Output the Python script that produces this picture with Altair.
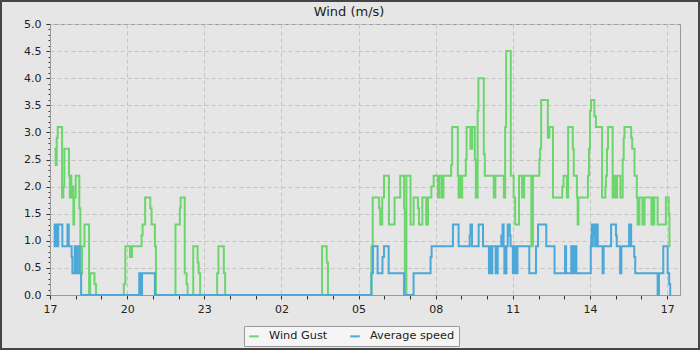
import altair as alt
import pandas as pd

TITLE = "Wind (m/s)"
SERIES = ["Wind Gust", "Average speed"]
COLORS = ["#6cd66c", "#4ba8d8"]
START_HOUR = 17  # x values are hours since 17:00

GUST_HOURS = [
    0.17, 0.22, 0.26, 0.30, 0.47, 0.52, 0.56, 0.74, 0.77, 0.80, 0.83, 0.87, 0.91, 0.94, 1.00, 1.14, 1.18, 1.22,
    1.25, 1.34, 1.52, 1.56, 1.73, 1.79,
    2.87, 2.93, 3.11, 3.19, 3.56, 3.60, 3.70, 3.90, 3.95, 4.08, 4.12,
    4.88, 5.05, 5.08, 5.24, 5.31, 5.35,
    5.57, 5.74, 5.78, 5.84,
    6.50, 6.55, 6.76, 6.81,
    10.58, 10.76, 10.81,
    12.50, 12.55, 12.80, 12.84, 12.92, 12.99, 13.18, 13.40, 13.62, 13.77, 13.80, 13.86, 14.02, 14.14, 14.31,
    14.35, 14.48, 14.63, 14.70, 14.83, 14.92, 15.09, 15.15, 15.24, 15.30, 15.60, 15.64, 15.86, 15.89, 15.92,
    15.95, 16.03, 16.17, 16.20, 16.35, 16.42, 16.52, 16.56, 16.59, 16.61, 16.63, 16.66, 16.87, 16.91, 17.26,
    17.32, 17.65, 17.70, 17.74, 17.92, 18.03, 18.09, 18.24, 18.36, 18.44, 18.72, 18.78, 19.03, 19.06, 19.10,
    19.36, 19.42, 19.56, 19.92, 19.97, 20.10, 20.15, 20.33, 20.37, 20.49, 20.52, 20.55, 20.92, 20.96, 21.00,
    21.04, 21.17, 21.23, 21.47, 21.60, 21.62, 21.66, 21.70, 21.88, 21.95, 21.99, 22.05, 22.18, 22.27, 22.31,
    22.34, 22.60, 22.64, 22.73, 22.82, 22.85, 22.92, 23.04, 23.12, 23.39, 23.43, 23.46, 23.50, 23.63, 23.95,
    24.06, 24.09, 24.13,
]
GUST_MS = [
    2.7, 2.4, 2.9, 3.1, 1.8, 2.0, 2.7, 2.2, 1.8, 2.2, 1.8, 2.0, 1.3, 1.8, 2.2, 1.6, 0.9, 0.4,
    0.9, 1.3, 0.0, 0.4, 0.2, 0.0,
    0.2, 0.9, 0.7, 0.9, 1.1, 1.3, 1.8, 1.6, 1.3, 0.9, 0.0,
    1.3, 1.6, 1.8, 0.4, 0.2, 0.0,
    0.9, 0.6, 0.4, 0.0,
    0.4, 0.9, 0.4, 0.0,
    0.9, 0.6, 0.0,
    0.9, 1.8, 1.6, 1.3, 1.8, 2.2, 1.3, 1.8, 2.2, 1.6, 0.0, 2.2, 1.3, 1.8, 1.6,
    1.3, 1.8, 1.3, 1.8, 2.0, 2.2, 1.8, 2.2, 1.8, 2.2, 2.4, 3.1, 2.2, 1.8, 2.2,
    1.8, 2.2, 2.5, 3.1, 2.7, 3.1, 2.5, 1.8, 2.2, 1.8, 3.4, 4.0, 2.6, 2.2, 1.8,
    2.2, 1.8, 3.1, 4.5, 2.2, 1.8, 1.3, 2.2, 1.8, 2.2, 0.9, 2.2, 2.5, 2.7, 3.6,
    2.9, 3.1, 1.8, 2.0, 2.2, 1.8, 3.1, 2.7, 2.2, 1.8, 1.3, 1.8, 2.2, 2.7, 3.4,
    3.6, 3.3, 3.1, 1.8, 2.0, 2.2, 2.7, 3.1, 1.8, 2.2, 1.8, 2.2, 1.8, 2.5, 2.9,
    3.1, 2.9, 2.7, 2.2, 1.8, 1.3, 1.8, 1.3, 1.8, 1.3, 1.8, 1.3, 1.8, 1.3, 1.8,
    1.5, 0.9, 0.9,
]

AVG_HOURS = [
    0.15, 0.18, 0.21, 0.24, 0.27, 0.29, 0.32, 0.48, 0.68, 0.73, 0.84, 0.87, 0.96, 0.99, 1.02, 1.05, 1.08, 1.16,
    1.21,
    3.47, 3.49, 3.52, 3.55, 3.58, 4.08,
    12.50, 12.56, 12.74, 12.93, 12.99, 13.17, 13.77, 14.14, 14.80, 14.84, 15.67, 15.89, 16.32, 16.35, 16.41,
    16.67, 16.84,
    17.07, 17.10, 17.12, 17.15, 17.17, 17.20, 17.33, 17.36, 17.38, 17.41, 17.55, 17.57, 17.60, 17.64, 17.67,
    17.70, 17.72, 17.75, 17.80, 17.88, 17.91, 18.00, 18.03, 18.06, 18.10, 18.13, 18.18, 18.64, 18.90, 18.98,
    19.30, 19.62, 20.03, 20.07, 20.27, 20.30, 20.35, 20.38, 20.44, 20.47, 21.03, 21.05, 21.07, 21.09, 21.11,
    21.14, 21.17, 21.20, 21.27, 21.30, 21.49, 21.53, 21.82, 22.01, 22.04, 22.17, 22.22, 22.52, 22.60, 22.72,
    22.76, 23.63, 23.68, 23.85, 24.02, 24.08, 24.12, 24.13,
]
AVG_MS = [
    1.3, 0.9, 1.3, 0.9, 1.3, 0.9, 1.3, 0.9, 1.3, 0.9, 0.7, 0.4, 0.9, 0.4, 0.9, 0.4, 0.9, 0.4,
    0.0,
    0.4, 0.0, 0.4, 0.0, 0.4, 0.0,
    0.4, 0.9, 0.4, 0.7, 0.9, 0.4, 0.0, 0.4, 0.7, 0.9, 1.3, 0.9, 1.1, 1.3, 0.9,
    1.3, 0.9,
    0.4, 0.9, 0.4, 0.9, 0.4, 0.9, 0.4, 0.9, 0.4, 0.9, 1.1, 0.9, 1.3, 0.9, 0.4,
    0.9, 0.4, 0.9, 1.3, 1.1, 0.9, 0.4, 0.9, 0.4, 0.9, 0.4, 0.9, 0.4, 0.9, 1.3,
    0.9, 0.4, 0.9, 0.4, 0.9, 0.4, 0.9, 0.4, 0.9, 0.4, 0.9, 1.1, 1.3, 0.9, 1.3,
    1.1, 1.3, 0.9, 1.3, 0.9, 0.4, 0.9, 1.3, 1.1, 0.9, 0.4, 0.9, 1.3, 0.9, 0.7,
    0.4, 0.0, 0.4, 0.9, 0.4, 0.2, 0.0, 0.0,
]

X_TICKS = list(range(0, 25))                       # one tick per hour
Y_TICKS = [round(i * 0.1, 1) for i in range(51)]   # one tick per 0.1 m/s

gust_df = pd.DataFrame({"h": GUST_HOURS, "v": GUST_MS, "series": SERIES[0]})
avg_df = pd.DataFrame({"h": AVG_HOURS, "v": AVG_MS, "series": SERIES[1]})

FONT = "DejaVu Sans"
major_x = "datum.value % 3 == 0"
major_y = "abs(datum.value * 2 - round(datum.value * 2)) < 0.001"
hour_expr = f"((datum.value + {START_HOUR}) % 24)"

x_enc = alt.X(
    "h:Q",
    scale=alt.Scale(domain=[0, 24.5], nice=False, zero=False),
    axis=alt.Axis(
        title=None,
        values=X_TICKS,
        tickCount=100,
        labelExpr=f"{major_x} ? (({hour_expr} < 10) ? '0' : '') + {hour_expr} : ''",
        tickSize=4,
        gridOpacity={"condition": {"test": major_x, "value": 1}, "value": 0},
        labelFlush=False,
        labelOverlap=False,
        labelPadding=4,
    ),
)
y_enc = alt.Y(
    "v:Q",
    scale=alt.Scale(domain=[0, 5], nice=False),
    axis=alt.Axis(
        title=None,
        values=Y_TICKS,
        tickCount=100,
        labelExpr=f"{major_y} ? format(datum.value, '.1f') : ''",
        tickSize={"condition": {"test": major_y, "value": 4}, "value": 2},
        gridOpacity={"condition": {"test": major_y, "value": 1}, "value": 0},
        labelOverlap=False,
        labelPadding=5,
    ),
)
color_enc = alt.Color(
    "series:N",
    scale=alt.Scale(domain=SERIES, range=COLORS),
    legend=alt.Legend(
        title=None,
        orient="none",
        legendX=194,
        legendY=302,
        direction="horizontal",
        columns=2,
        symbolType="stroke",
        symbolSize=90,
        symbolStrokeWidth=2,
        labelFont=FONT,
        labelFontSize=11.3,
        labelColor="#222222",
        labelOffset=9,
        columnPadding=18,
        padding=4,
        strokeColor="#999999",
        fillColor="#f5f5f5",
    ),
)

gust = alt.Chart(gust_df).mark_line(interpolate="step-after", strokeWidth=2).encode(
    x=x_enc, y=y_enc, color=color_enc
)
avg = alt.Chart(avg_df).mark_line(interpolate="step-after", strokeWidth=2).encode(
    x="h:Q", y="v:Q", color="series:N"
)
title = alt.Chart(alt.Data(values=[{"t": TITLE}])).mark_text(
    font=FONT, fontSize=13, color="#222222", align="center", baseline="alphabetic"
).encode(text="t:N", x=alt.value(299), y=alt.value(-8))
frame = alt.Chart(alt.Data(values=[{"k": 1}])).mark_rect(
    fill="transparent", stroke="#454545", strokeWidth=2
).encode(
    x=alt.value(-49), x2=alt.value(649), y=alt.value(-23), y2=alt.value(325)
)

chart = (
    alt.layer(gust, avg, title, frame)
    .properties(
        width=630,
        height=271,
        autosize=alt.AutoSizeParams(type="none"),
        padding={"left": 50, "top": 24, "right": 20, "bottom": 55},
        background="#e6e6e6",
    )
    .configure_view(stroke="#999999", fill="#e6e6e6")
    .configure_axis(
        labelFont=FONT,
        labelFontSize=11,
        labelColor="#222222",
        tickColor="#333333",
        domainColor="#999999",
        gridColor="#c4c4c4",
        gridDash=[4, 3],
    )
)

chart.save("out.html", embed_options={"renderer": "svg", "actions": False})
